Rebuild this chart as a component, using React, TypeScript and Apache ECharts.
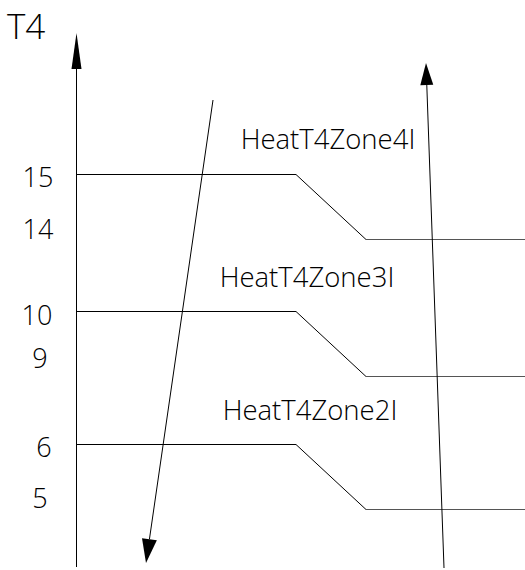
import React, { useEffect, useRef } from "react";
import * as echarts from "echarts";

// Threshold values (T4) for each heating zone boundary
const upperT = [15, 10, 6];
const lowerT = [14, 9, 5];
const zoneNames = ["HeatT4Zone4I", "HeatT4Zone3I", "HeatT4Zone2I"];
const axisTitle = "T4";

// Schematic layout (diagram units of the hidden cartesian grid)
const upperLevel = [174.5, 311.5, 444.5];
const lowerLevel = [239.5, 376.5, 509.5];
const upperLabelY = [176, 314, 446];
const lowerLabelY = [228, 357, 497];
const upperLabelX = [38, 37, 44];
const lowerLabelX = [38, 40, 40];
const zoneLabelPos = [
  [328, 138],
  [307, 276],
  [310, 409],
];
const axisX = 76.5;
const bendStartX = 296;
const bendEndX = 366;
const rightEndX = 525;

// Arrows: [tailX, tailY, tipX, tipY, headLength, headWidth]
const arrows = [
  [76.5, 567, 76.5, 33, 36, 10],
  [213, 100, 146, 563, 24, 15],
  [444, 568, 426, 63, 22, 13],
];

const FONT = "'Open Sans', 'Noto Sans', sans-serif";
const WEIGHT = 300;

export default function App() {
  const ref = useRef<HTMLDivElement>(null);
  useEffect(() => {
    if (!ref.current) return;
    const chart = echarts.init(ref.current, null, { renderer: "svg" });
    chart.setOption({
      animation: false,
      backgroundColor: "#fff",
      grid: { left: 0, right: 0, top: 0, bottom: 0 },
      xAxis: { type: "value", min: 0, max: 525, show: false },
      yAxis: { type: "value", min: 0, max: 570, inverse: true, show: false },
      series: [
        {
          type: "custom",
          clip: false,
          data: zoneNames.map((_, i) => [i]),
          renderItem: (params: any, api: any) => {
            const i = params.dataIndex;
            const p0 = api.coord([axisX, upperLevel[i]]);
            const p1 = api.coord([bendStartX, upperLevel[i]]);
            const p2 = api.coord([bendEndX, lowerLevel[i]]);
            const p3 = api.coord([rightEndX, lowerLevel[i]]);
            const ul = api.coord([upperLabelX[i], upperLabelY[i]]);
            const ll = api.coord([lowerLabelX[i], lowerLabelY[i]]);
            const zl = api.coord(zoneLabelPos[i]);
            const txt = (text: string, p: number[], size: number) => ({
              type: "text",
              style: {
                text,
                x: p[0],
                y: p[1],
                align: "center",
                verticalAlign: "middle",
                fontSize: size,
                fontWeight: WEIGHT,
                fontFamily: FONT,
                fill: "#000",
              },
            });
            return {
              type: "group",
              children: [
                {
                  type: "polyline",
                  shape: { points: [p0, p1, p2] },
                  style: { stroke: "#000", lineWidth: 1, fill: "none" },
                },
                {
                  type: "polyline",
                  shape: { points: [p2, p3] },
                  style: { stroke: "#555", lineWidth: 1, fill: "none" },
                },
                txt(String(upperT[i]), ul, 27),
                txt(String(lowerT[i]), ll, 27),
                txt(zoneNames[i], zl, 27.5),
              ],
            };
          },
        },
        {
          type: "custom",
          clip: false,
          data: arrows.map((_, i) => [i]),
          renderItem: (params: any, api: any) => {
            const a = arrows[params.dataIndex];
            const tail = api.coord([a[0], a[1]]);
            const tip = api.coord([a[2], a[3]]);
            const dx = tip[0] - tail[0];
            const dy = tip[1] - tail[1];
            const len = Math.sqrt(dx * dx + dy * dy);
            const ux = dx / len;
            const uy = dy / len;
            const L = a[4];
            const W = a[5] / 2;
            const base = [tip[0] - ux * L, tip[1] - uy * L];
            const px = -uy;
            const py = ux;
            return {
              type: "group",
              children: [
                {
                  type: "line",
                  shape: { x1: tail[0], y1: tail[1], x2: base[0], y2: base[1] },
                  style: { stroke: "#000", lineWidth: 1 },
                },
                {
                  type: "polygon",
                  shape: {
                    points: [
                      tip,
                      [base[0] + px * W, base[1] + py * W],
                      [base[0] - px * W, base[1] - py * W],
                    ],
                  },
                  style: { fill: "#000", stroke: "none" },
                },
              ],
            };
          },
        },
        {
          type: "custom",
          clip: false,
          data: [[0]],
          renderItem: (_params: any, api: any) => {
            const p = api.coord([7, 25]);
            return {
              type: "text",
              style: {
                text: axisTitle,
                x: p[0],
                y: p[1],
                align: "left",
                verticalAlign: "middle",
                fontSize: 35,
                fontWeight: WEIGHT,
                fontFamily: FONT,
                fill: "#000",
              },
            };
          },
        },
      ],
    });
    return () => chart.dispose();
  }, []);
  return (
    <div
      ref={ref}
      style={{ position: "fixed", left: 0, top: 0, width: 525, height: 570 }}
    />
  );
}
